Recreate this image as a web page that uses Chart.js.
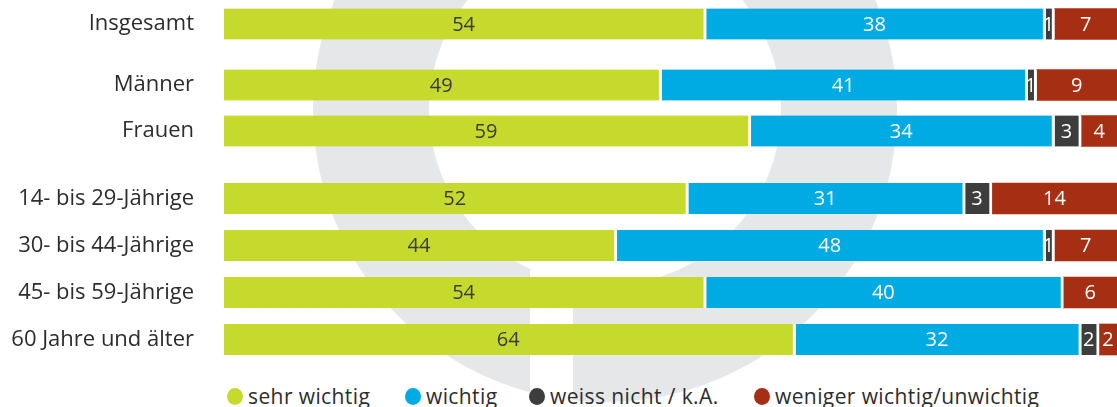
<!DOCTYPE html>
<html>
<head>
<meta charset="utf-8">
<script src="https://cdn.jsdelivr.net/npm/chart.js@4"></script>
<style>
  html, body { margin: 0; padding: 0; background: #fff; }
  #wrap { position: relative; width: 1117px; height: 407px; overflow: hidden; font-family: 'Open Sans', sans-serif; }
  #logo { position: absolute; left: 0; top: 0; }
  .panel { position: absolute; left: 0; }
  .leg { position: absolute; top: 385px; height: 22px; display: flex; align-items: center; font-size: 21px; letter-spacing: 0.4px; color: #2d2d2d; white-space: nowrap; }
  .leg i { display: inline-block; width: 16px; height: 17px; border-radius: 50%; margin-right: 5px; }
</style>
</head>
<body>
<div id="wrap">
  <svg id="logo" width="1117" height="407">
    <path fill="#e6e7e8" fill-rule="evenodd"
      d="M313 110 a292 292 0 1 0 584 0 a292 292 0 1 0 -584 0 Z M429 110 a176 176 0 1 0 352 0 a176 176 0 1 0 -352 0 Z"/>
    <rect x="530" y="270" width="43" height="140" fill="#fff"/>
  </svg>
  <canvas class="panel" id="c0" width="1117" height="46" style="top:1px"></canvas>
  <canvas class="panel" id="c1" width="1117" height="92" style="top:62px"></canvas>
  <canvas class="panel" id="c2" width="1117" height="188" style="top:175px"></canvas>
  <div id="legend"></div>
</div>
<script>
// Data (percent)
const rowLabels = ['Insgesamt', 'Männer', 'Frauen', '14- bis 29-Jährige', '30- bis 44-Jährige', '45- bis 59-Jährige', '60 Jahre und älter'];
const sehrWichtig = [54, 49, 59, 52, 44, 54, 64];
const wichtig = [38, 41, 34, 31, 48, 40, 32];
const weissNicht = [1, 1, 3, 3, 1, 0, 2];
const wenigerWichtig = [7, 9, 4, 14, 7, 6, 2];
const seriesNames = ['sehr wichtig', 'wichtig', 'weiss nicht / k.A.', 'weniger wichtig/unwichtig'];

const colors = ['#c6d92d', '#00aae3', '#3d3d3d', '#a62e12'];
const seriesData = [sehrWichtig, wichtig, weissNicht, wenigerWichtig];
const fontFamily = "'Open Sans'";

// rows shown in each block
const blocks = [[0, 1], [1, 3], [3, 7]];

// draws the numbers inside the bars
const valueLabels = {
    id: 'valueLabels',
    afterDatasetsDraw(chart) {
        const ctx = chart.ctx;
        ctx.save();
        ctx.font = '20px ' + fontFamily;
        ctx.textAlign = 'center';
        ctx.textBaseline = 'middle';
        chart.data.datasets.forEach((ds, i) => {
            chart.getDatasetMeta(i).data.forEach((bar, j) => {
                const v = ds.data[j];
                if (!v) return;
                const p = bar.getProps(['x', 'y', 'base'], true);
                const shift = i < 3 ? 1.5 : 0;
                ctx.fillStyle = i === 0 ? '#3a3a3a' : '#ffffff';
                ctx.fillText(String(v), (p.x + p.base) / 2 - shift, p.y + 1);
            });
        });
        ctx.restore();
    }
};

blocks.forEach((b, k) => {
    const ctx = document.getElementById('c' + k).getContext('2d');
    new Chart(ctx, {
        type: 'bar',
        data: {
            labels: rowLabels.slice(b[0], b[1]),
            datasets: seriesData.map((arr, i) => ({
                label: seriesNames[i],
                data: arr.slice(b[0], b[1]),
                backgroundColor: colors[i],
                borderColor: '#ffffff',
                borderWidth: i < 3 ? { left: 0, right: 3, top: 0, bottom: 0 } : 0,
                borderSkipped: false,
                barThickness: 31
            }))
        },
        options: {
            indexAxis: 'y',
            responsive: false,
            animation: false,
            layout: { padding: 0 },
            plugins: {
                legend: { display: false },
                tooltip: { enabled: false }
            },
            scales: {
                x: {
                    stacked: true,
                    min: 0,
                    max: 100,
                    display: false
                },
                y: {
                    stacked: true,
                    grid: { display: false, drawTicks: false },
                    border: { display: false },
                    ticks: {
                        padding: 30,
                        color: '#2d2d2d',
                        font: { family: fontFamily, size: 22 }
                    },
                    afterFit(scale) {
                        // fixed label column, no extra space above/below the rows
                        scale.width = 224;
                        scale.paddingTop = 0;
                        scale.paddingBottom = 0;
                    }
                }
            }
        },
        plugins: [valueLabels]
    });
});

// legend
const legendX = [227, 405, 529, 754];
const legend = document.getElementById('legend');
seriesNames.forEach((name, i) => {
    const d = document.createElement('div');
    d.className = 'leg';
    d.style.left = legendX[i] + 'px';
    d.innerHTML = '<i style="background:' + colors[i] + '"></i>' + name;
    legend.appendChild(d);
});
</script>
</body>
</html>
